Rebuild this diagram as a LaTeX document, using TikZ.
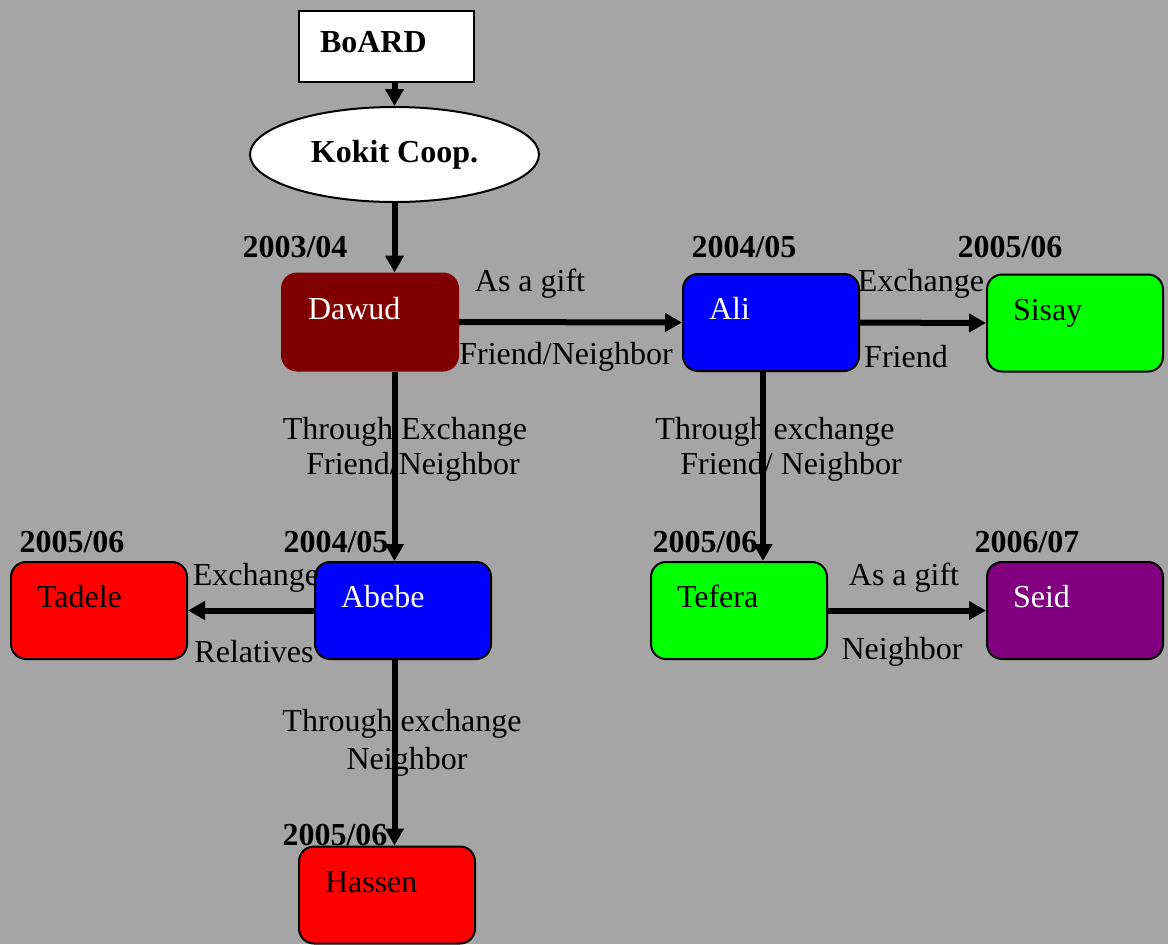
\documentclass[tikz,border=0pt]{standalone}
\usepackage{fontspec}
\setmainfont{Liberation Serif}
\usepackage{xcolor}
\usetikzlibrary{arrows.meta,shapes.geometric}
\definecolor{bggray}{RGB}{165,165,165}
\definecolor{maroonc}{RGB}{128,0,0}
\definecolor{bluec}{RGB}{0,0,255}
\definecolor{greenc}{RGB}{0,255,0}
\definecolor{redc}{RGB}{255,0,0}
\definecolor{purplec}{RGB}{128,0,128}
\begin{document}
\begin{tikzpicture}[
    x=0.5pt, y=-0.5pt,
    txt/.style={font=\fontsize{16pt}{19pt}\selectfont, inner sep=0pt},
    year/.style={txt, font=\fontsize{16pt}{19pt}\selectfont\bfseries},
    person/.style={txt, rectangle, rounded corners=7.5pt, draw=black, line width=1pt,
        minimum width=88pt, minimum height=48.5pt, text width=62pt, inner xsep=13pt,
        align=left, text height=11pt, text depth=14pt},
    arrow/.style={-{Triangle[length=8.5pt,width=9pt]}, line width=3pt}
]
    \useasboundingbox (0,0) rectangle (1168,944);
    \fill[bggray] (0,0) rectangle (1168,944);

    \node[year, rectangle, draw=black, line width=1pt, fill=white, minimum width=87.5pt, minimum height=35.5pt,
        text width=66.5pt, inner xsep=10.5pt, align=left, text height=11pt, text depth=5pt] (board) at (386.5,46.5) {BoARD};
    \node[year, ellipse, draw=black, line width=1pt, fill=white, minimum width=144.5pt, minimum height=47.5pt] (kokit) at (394.5,154.5) {Kokit Coop.};

    \node[person, fill=maroonc, draw=maroonc, text=white] (dawud) at (370,322) {Dawud};
    \node[person, fill=bluec, text=white] (ali) at (771,322.5) {Ali};
    \node[person, fill=greenc] (sisay) at (1075,323) {Sisay};
    \node[person, fill=bluec, text=white] (abebe) at (403,610.5) {Abebe};
    \node[person, fill=redc] (tadele) at (99,610.5) {Tadele};
    \node[person, fill=greenc] (tefera) at (739,610.5) {Tefera};
    \node[person, fill=purplec, text=white] (seid) at (1075,610.5) {Seid};
    \node[person, fill=redc] (hassen) at (387,895) {Hassen};

    \node[year] (yDawud) at (295,247) {2003/04};
    \node[year] (yAli) at (744,247) {2004/05};
    \node[year] (ySisay) at (1010,247) {2005/06};
    \node[year] (yTadele) at (72,542) {2005/06};
    \node[year] (yAbebe) at (336,542) {2004/05};
    \node[year] (yTefera) at (705,542) {2005/06};
    \node[year] (ySeid) at (1027,542) {2006/07};
    \node[year] (yHassen) at (335,835) {2005/06};

    \node[txt] (giftDA) at (530,284) {As a gift};
    \node[txt] (friendDA) at (566,357) {Friend/Neighbor};
    \node[txt] (exchAS) at (921,284) {Exchange};
    \node[txt] (friendAS) at (906,357) {Friend};
    \node[txt] (throughDA) at (405,432) {Through Exchange};
    \node[txt] (friendDAb) at (413,467) {Friend/Neighbor};
    \node[txt] (throughAT) at (775,432) {Through exchange};
    \node[txt] (friendAT) at (791,467) {Friend/ Neighbor};
    \node[txt] (exchAT) at (256,578) {Exchange};
    \node[txt] (relAT) at (254,652) {Relatives};
    \node[txt] (giftTS) at (904,578) {As a gift};
    \node[txt] (neighTS) at (902,652) {Neighbor};
    \node[txt] (throughAH) at (402,724) {Through exchange};
    \node[txt] (neighAH) at (407,762) {Neighbor};

    \coordinate (aliOut) at ([xshift=-4pt]ali.south);

    \draw[arrow] (board.south -| kokit.north) -- (kokit.north);
    \draw[arrow] (kokit.south) -- (dawud.north -| kokit.south);
    \draw[arrow] (dawud.east) -- (ali.west);
    \draw[arrow] (ali.east) -- (sisay.west);
    \draw[arrow] (dawud.south -| kokit.south) -- (abebe.north -| kokit.south);
    \draw[arrow] (aliOut) -- (aliOut |- tefera.north);
    \draw[arrow] (abebe.west) -- (tadele.east);
    \draw[arrow] (tefera.east) -- (seid.west);
    \draw[arrow] (abebe.south -| kokit.south) -- (hassen.north -| kokit.south);
\end{tikzpicture}
\end{document}
